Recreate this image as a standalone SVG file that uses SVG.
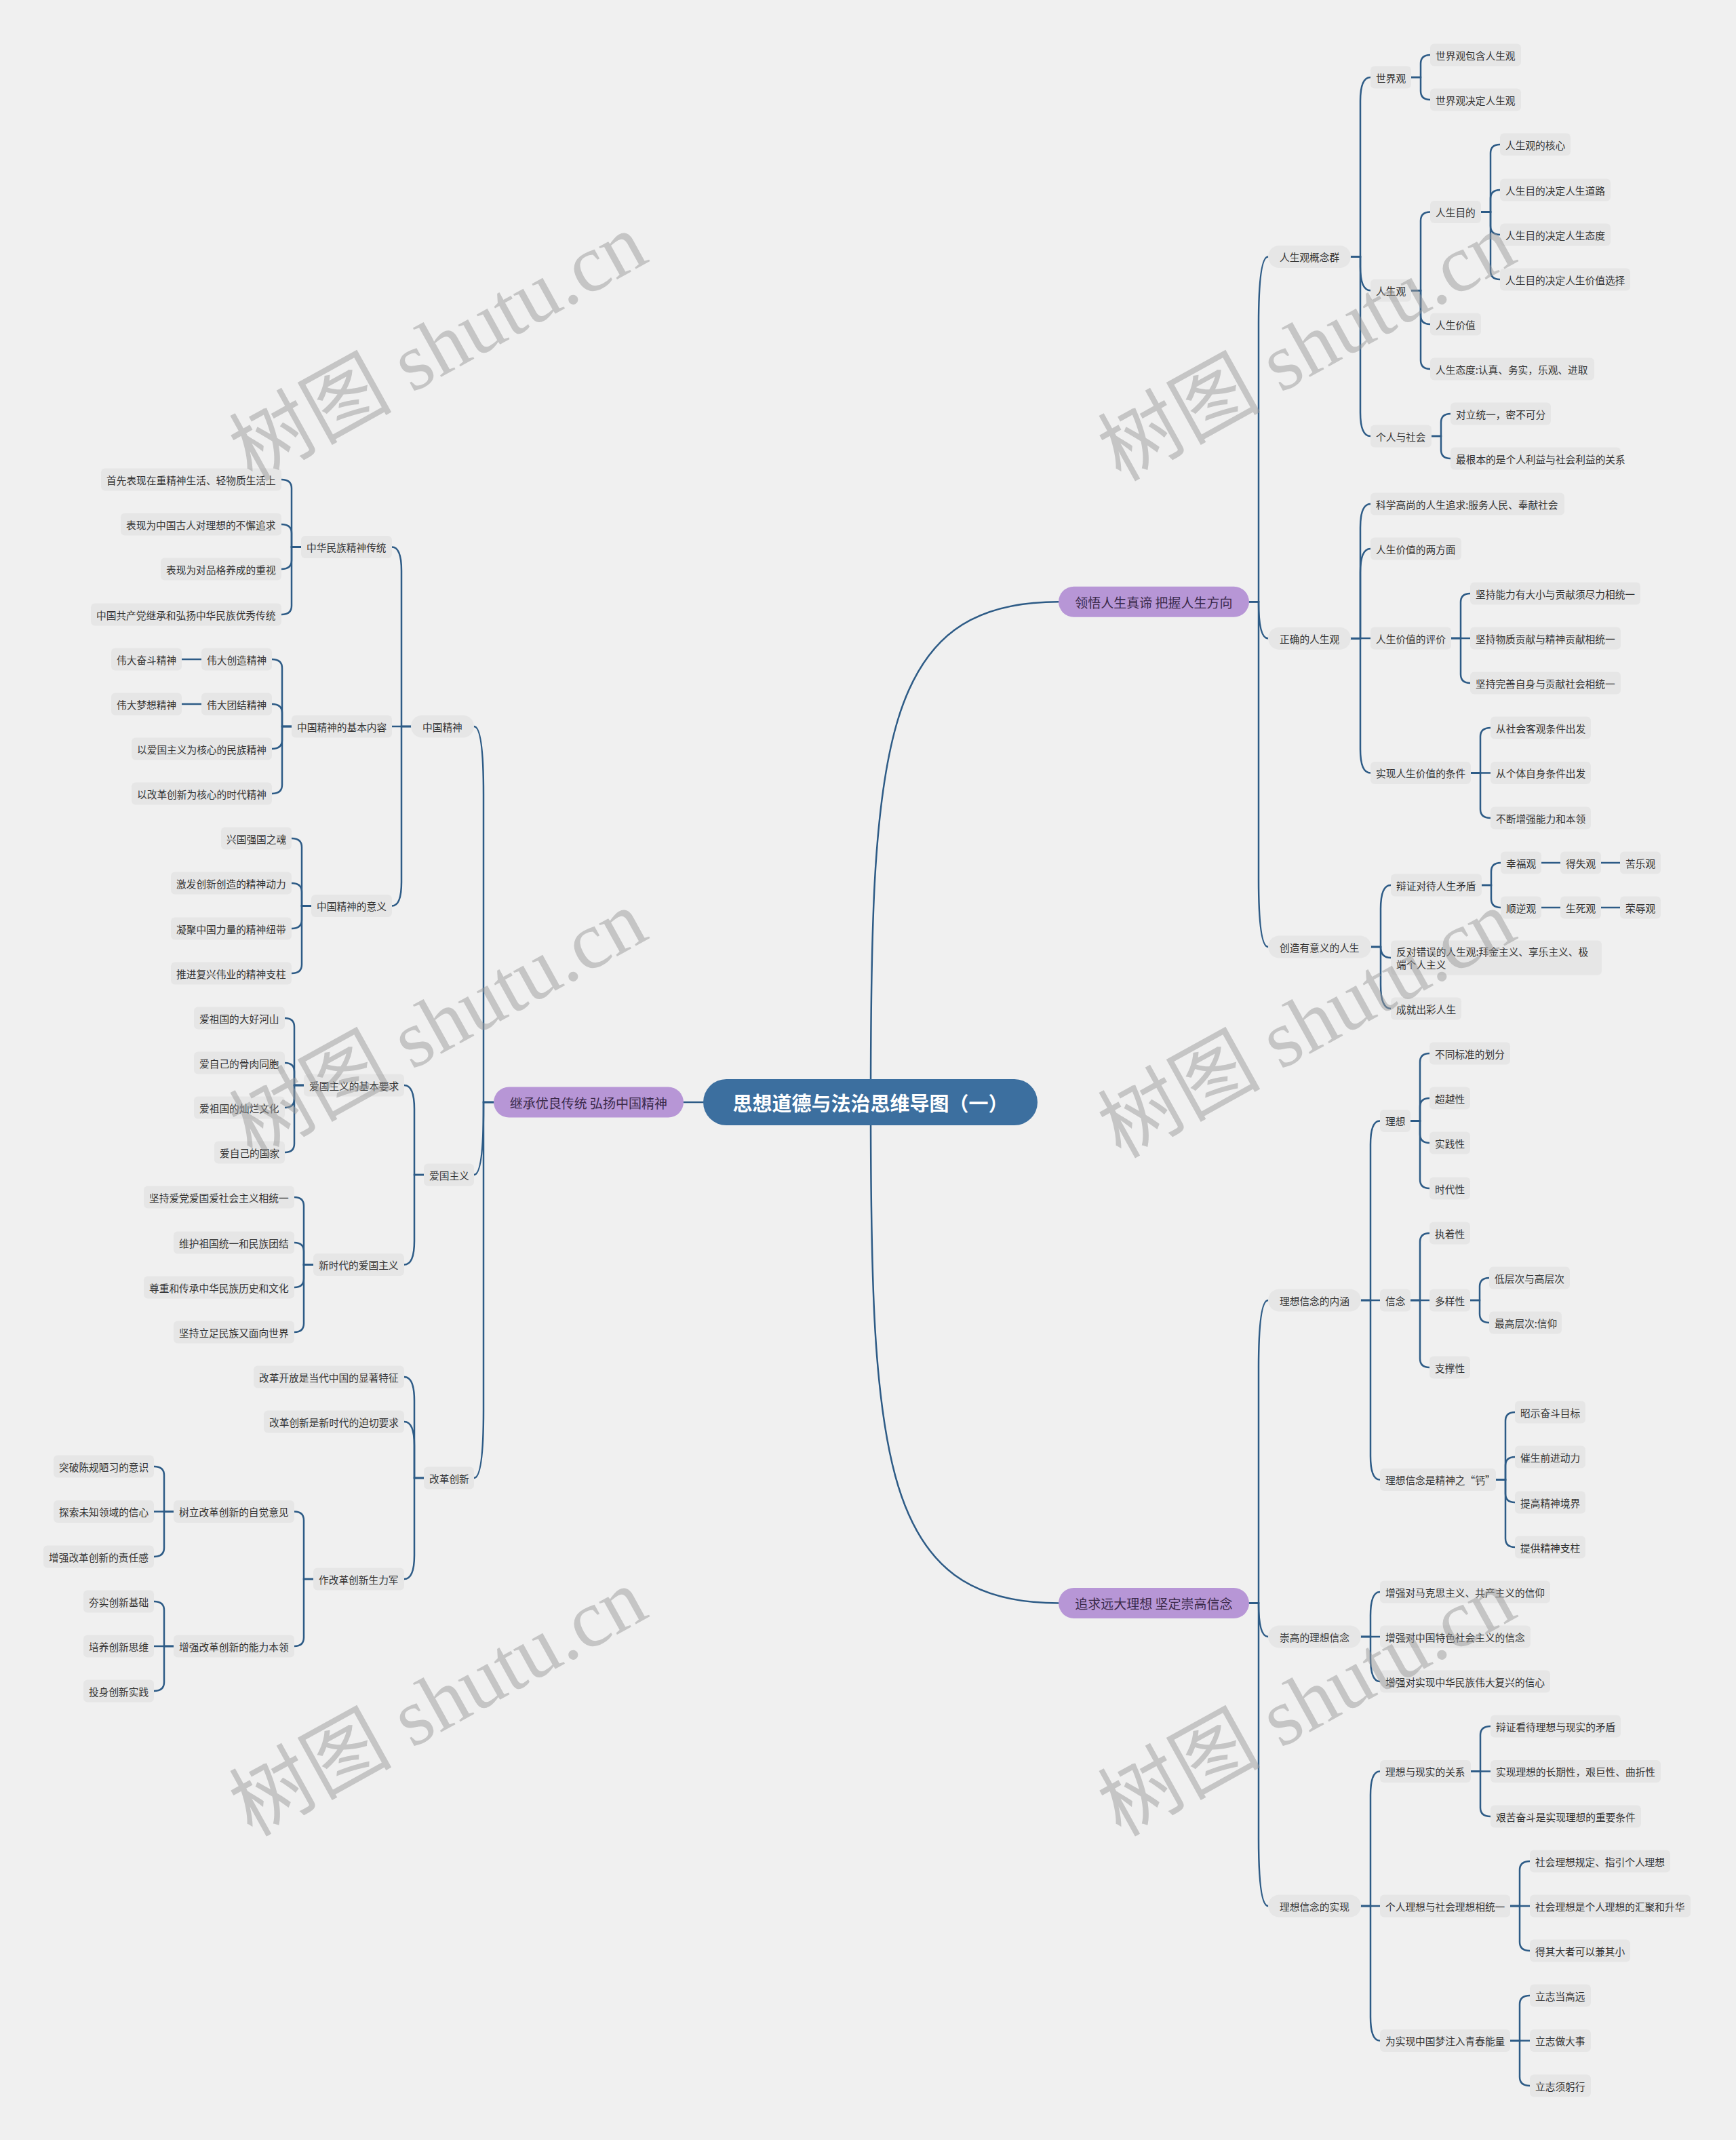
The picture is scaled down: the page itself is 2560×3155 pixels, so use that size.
<svg xmlns="http://www.w3.org/2000/svg" width="2560" height="3155" viewBox="0 0 2560 3155">
<style>
text{font-family:'Noto Sans CJK SC','Noto Sans',sans-serif}
.t{font-size:14.7px;fill:#333;dominant-baseline:central}
.n rect{fill:#e6e6e6}
.c path{fill:none;stroke:#2d5b86;stroke-width:2.5;stroke-linecap:round}
.br rect{fill:#b796d6}
.br text{font-size:19px;fill:#3a2949;dominant-baseline:central;text-anchor:middle}
.wm{font-family:'Liberation Serif','Noto Sans CJK SC',serif;font-size:120px;fill:#9a9a9a;fill-opacity:0.5;text-anchor:middle;dominant-baseline:central}
</style>
<rect width="2560" height="3155" fill="#f0f0f0"/>
<g class="c" id="connectors">
<path d="M1284,1625 C1284,1100 1300,887.25 1561,887.25"/>
<path d="M1284,1625 C1284,2150 1300,2363.5 1561,2363.5"/>
<path d="M1008,1625 H1037"/>
<path d="M1842,887.25 H1856 V478.5 Q1856,378.5 1870,378.5"/>
<path d="M1842,887.25 H1856 Q1856,941.25 1870,941.25"/>
<path d="M1842,887.25 H1856 V1296 Q1856,1396 1870,1396"/>
<path d="M1842,2363.5 H1856 V2017 Q1856,1917 1870,1917"/>
<path d="M1842,2363.5 H1856 Q1856,2413 1870,2413"/>
<path d="M1842,2363.5 H1856 V2710 Q1856,2810 1870,2810"/>
<path d="M1992,378.5 H2006 V149 Q2006,114 2021,114"/>
<path d="M1992,378.5 H2006 V393.25 Q2006,428.25 2021,428.25"/>
<path d="M1992,378.5 H2006 V608 Q2006,643 2021,643"/>
<path d="M1992,941.25 H2006 V778 Q2006,743 2021,743"/>
<path d="M1992,941.25 H2006 V844 Q2006,809 2021,809"/>
<path d="M1992,941 H2021"/>
<path d="M1992,941.25 H2006 V1104.5 Q2006,1139.5 2021,1139.5"/>
<path d="M2022,1396 H2036 V1340 Q2036,1305 2051,1305"/>
<path d="M2022,1396 H2036 Q2036,1412 2051,1412"/>
<path d="M2022,1396 H2036 V1452 Q2036,1487 2051,1487"/>
<path d="M2007,1917 H2021 V1687.5 Q2021,1652.5 2035,1652.5"/>
<path d="M2007,1917 H2035"/>
<path d="M2007,1917 H2021 V2146.5 Q2021,2181.5 2035,2181.5"/>
<path d="M2007,2413 H2021 V2382 Q2021,2347 2035,2347"/>
<path d="M2007,2413 H2035"/>
<path d="M2007,2413 H2021 V2444 Q2021,2479 2035,2479"/>
<path d="M2007,2810 H2021 V2646.5 Q2021,2611.5 2035,2611.5"/>
<path d="M2007,2810 H2035"/>
<path d="M2007,2810 H2021 V2973.5 Q2021,3008.5 2035,3008.5"/>
<path d="M2081,114 H2095 V94 Q2095,81 2109,81"/>
<path d="M2081,114 H2095 V134 Q2095,147 2109,147"/>
<path d="M2081,428.25 H2095 V325.5 Q2095,312.5 2109,312.5"/>
<path d="M2081,428.25 H2095 V465 Q2095,478 2109,478"/>
<path d="M2081,428.25 H2095 V531 Q2095,544 2109,544"/>
<path d="M2184,312.5 H2198 V226 Q2198,213 2212,213"/>
<path d="M2184,312.5 H2198 V293 Q2198,280 2212,280"/>
<path d="M2184,312.5 H2198 V333 Q2198,346 2212,346"/>
<path d="M2184,312.5 H2198 V399 Q2198,412 2212,412"/>
<path d="M2111,643 H2125 V623 Q2125,610 2139,610"/>
<path d="M2111,643 H2125 V663 Q2125,676 2139,676"/>
<path d="M2140,941 H2154 V888 Q2154,875 2168,875"/>
<path d="M2140,941 H2168"/>
<path d="M2140,941 H2154 V994 Q2154,1007 2168,1007"/>
<path d="M2169,1139.5 H2183 V1086 Q2183,1073 2198,1073"/>
<path d="M2169,1139.5 H2198"/>
<path d="M2169,1139.5 H2183 V1193 Q2183,1206 2198,1206"/>
<path d="M2185,1305 H2199 V1285 Q2199,1272 2213,1272"/>
<path d="M2185,1305 H2199 V1325 Q2199,1338 2213,1338"/>
<path d="M2273,1272 H2301"/>
<path d="M2361,1272 H2389"/>
<path d="M2273,1338 H2301"/>
<path d="M2361,1338 H2389"/>
<path d="M2080,1652.5 H2094 V1566 Q2094,1553 2108,1553"/>
<path d="M2080,1652.5 H2094 V1632 Q2094,1619 2108,1619"/>
<path d="M2080,1652.5 H2094 V1672 Q2094,1685 2108,1685"/>
<path d="M2080,1652.5 H2094 V1739 Q2094,1752 2108,1752"/>
<path d="M2080,1917 H2094 V1831 Q2094,1818 2108,1818"/>
<path d="M2080,1917 H2108"/>
<path d="M2080,1917 H2094 V2003 Q2094,2016 2108,2016"/>
<path d="M2168,1917 H2182 V1897 Q2182,1884 2196,1884"/>
<path d="M2168,1917 H2182 V1937 Q2182,1950 2196,1950"/>
<path d="M2206,2181.5 H2220 V2095 Q2220,2082 2234,2082"/>
<path d="M2206,2181.5 H2220 V2161 Q2220,2148 2234,2148"/>
<path d="M2206,2181.5 H2220 V2202 Q2220,2215 2234,2215"/>
<path d="M2206,2181.5 H2220 V2268 Q2220,2281 2234,2281"/>
<path d="M2169,2611.5 H2183 V2558 Q2183,2545 2198,2545"/>
<path d="M2169,2611.5 H2198"/>
<path d="M2169,2611.5 H2183 V2665 Q2183,2678 2198,2678"/>
<path d="M2227,2810 H2241 V2757 Q2241,2744 2256,2744"/>
<path d="M2227,2810 H2256"/>
<path d="M2227,2810 H2241 V2863 Q2241,2876 2256,2876"/>
<path d="M2227,3008.5 H2241 V2955 Q2241,2942 2256,2942"/>
<path d="M2227,3008.5 H2256"/>
<path d="M2227,3008.5 H2241 V3062 Q2241,3075 2256,3075"/>
<path d="M728,1625 H713 V1171 Q713,1071 699,1071"/>
<path d="M728,1625 H713 V1632 Q713,1732 699,1732"/>
<path d="M728,1625 H713 V2079 Q713,2179 699,2179"/>
<path d="M606,1071 H592 V841.5 Q592,806.5 578,806.5"/>
<path d="M606,1071 H578"/>
<path d="M606,1071 H592 V1300.5 Q592,1335.5 578,1335.5"/>
<path d="M625,1732 H611 V1635 Q611,1600 596,1600"/>
<path d="M625,1732 H611 V1829.5 Q611,1864.5 596,1864.5"/>
<path d="M625,2179 H611 V2065 Q611,2030 596,2030"/>
<path d="M625,2179 H611 V2131 Q611,2096 596,2096"/>
<path d="M625,2179 H611 V2293 Q611,2328 596,2328"/>
<path d="M444,806.5 H430 V720 Q430,707 415,707"/>
<path d="M444,806.5 H430 V786 Q430,773 415,773"/>
<path d="M444,806.5 H430 V826 Q430,839 415,839"/>
<path d="M444,806.5 H430 V893 Q430,906 415,906"/>
<path d="M430,1071 H416 V985 Q416,972 401,972"/>
<path d="M430,1071 H416 V1051 Q416,1038 401,1038"/>
<path d="M430,1071 H416 V1091 Q416,1104 401,1104"/>
<path d="M430,1071 H416 V1157 Q416,1170 401,1170"/>
<path d="M297,972 H268"/>
<path d="M297,1038 H268"/>
<path d="M459,1335.5 H445 V1249 Q445,1236 430,1236"/>
<path d="M459,1335.5 H445 V1315 Q445,1302 430,1302"/>
<path d="M459,1335.5 H445 V1356 Q445,1369 430,1369"/>
<path d="M459,1335.5 H445 V1422 Q445,1435 430,1435"/>
<path d="M448,1600 H434 V1514 Q434,1501 420,1501"/>
<path d="M448,1600 H434 V1580 Q434,1567 420,1567"/>
<path d="M448,1600 H434 V1620 Q434,1633 420,1633"/>
<path d="M448,1600 H434 V1686 Q434,1699 420,1699"/>
<path d="M462,1864.5 H448 V1778 Q448,1765 434,1765"/>
<path d="M462,1864.5 H448 V1845 Q448,1832 434,1832"/>
<path d="M462,1864.5 H448 V1885 Q448,1898 434,1898"/>
<path d="M462,1864.5 H448 V1951 Q448,1964 434,1964"/>
<path d="M462,2328 H448 V2241.5 Q448,2228.5 434,2228.5"/>
<path d="M462,2328 H448 V2414 Q448,2427 434,2427"/>
<path d="M256,2228.5 H242 V2175 Q242,2162 227,2162"/>
<path d="M256,2228.5 H227"/>
<path d="M256,2228.5 H242 V2282 Q242,2295 227,2295"/>
<path d="M256,2427 H242 V2374 Q242,2361 227,2361"/>
<path d="M256,2427 H227"/>
<path d="M256,2427 H242 V2480 Q242,2493 227,2493"/>
</g>
<g id="title"><rect x="1037" y="1591" width="493" height="68" rx="34" fill="#3c6f9f"/><text x="1283.5" y="1625" font-size="29" font-weight="bold" fill="#fff" text-anchor="middle" dominant-baseline="central">思想道德与法治思维导图（一）</text></g>
<g id="branch-r1" class="br"><rect x="1561" y="864.75" width="281" height="45" rx="22.5"/><text x="1701.5" y="887.25">领悟人生真谛 把握人生方向</text></g>
<g id="branch-r2" class="br"><rect x="1561" y="2341" width="281" height="45" rx="22.5"/><text x="1701.5" y="2363.5">追求远大理想 坚定崇高信念</text></g>
<g id="branch-l1" class="br"><rect x="728" y="1602.5" width="280" height="45" rx="22.5"/><text x="868" y="1625">继承优良传统 弘扬中国精神</text></g>
<g id="r-a1" class="n"><rect x="1870" y="362" width="122" height="33" rx="16.5"/><text class="t" x="1887" y="378.5">人生观概念群</text></g>
<g id="r-a2" class="n"><rect x="1870" y="924.75" width="122" height="33" rx="16.5"/><text class="t" x="1887" y="941.25">正确的人生观</text></g>
<g id="r-a3" class="n"><rect x="1870" y="1379.5" width="152" height="33" rx="16.5"/><text class="t" x="1887" y="1396">创造有意义的人生</text></g>
<g id="r-b1" class="n"><rect x="1870" y="1900.5" width="137" height="33" rx="16.5"/><text class="t" x="1887" y="1917">理想信念的内涵</text></g>
<g id="r-b2" class="n"><rect x="1870" y="2396.5" width="137" height="33" rx="16.5"/><text class="t" x="1887" y="2413">崇高的理想信念</text></g>
<g id="r-b3" class="n"><rect x="1870" y="2793.5" width="137" height="33" rx="16.5"/><text class="t" x="1887" y="2810">理想信念的实现</text></g>
<g id="r-1" class="n"><rect x="2021" y="97.5" width="60" height="33" rx="6"/><text class="t" x="2029" y="114">世界观</text></g>
<g id="r-2" class="n"><rect x="2109" y="64.5" width="134" height="33" rx="6"/><text class="t" x="2117" y="81">世界观包含人生观</text></g>
<g id="r-3" class="n"><rect x="2109" y="130.5" width="134" height="33" rx="6"/><text class="t" x="2117" y="147">世界观决定人生观</text></g>
<g id="r-4" class="n"><rect x="2021" y="411.75" width="60" height="33" rx="6"/><text class="t" x="2029" y="428.25">人生观</text></g>
<g id="r-5" class="n"><rect x="2109" y="296" width="75" height="33" rx="6"/><text class="t" x="2117" y="312.5">人生目的</text></g>
<g id="r-6" class="n"><rect x="2212" y="196.5" width="104" height="33" rx="6"/><text class="t" x="2220" y="213">人生观的核心</text></g>
<g id="r-7" class="n"><rect x="2212" y="263.5" width="163" height="33" rx="6"/><text class="t" x="2220" y="280">人生目的决定人生道路</text></g>
<g id="r-8" class="n"><rect x="2212" y="329.5" width="163" height="33" rx="6"/><text class="t" x="2220" y="346">人生目的决定人生态度</text></g>
<g id="r-9" class="n"><rect x="2212" y="395.5" width="192" height="33" rx="6"/><text class="t" x="2220" y="412">人生目的决定人生价值选择</text></g>
<g id="r-10" class="n"><rect x="2109" y="461.5" width="75" height="33" rx="6"/><text class="t" x="2117" y="478">人生价值</text></g>
<g id="r-11" class="n"><rect x="2109" y="527.5" width="242" height="33" rx="6"/><text class="t" x="2117" y="544">人生态度:认真、务实，乐观、进取</text></g>
<g id="r-12" class="n"><rect x="2021" y="626.5" width="90" height="33" rx="6"/><text class="t" x="2029" y="643">个人与社会</text></g>
<g id="r-13" class="n"><rect x="2139" y="593.5" width="148" height="33" rx="6"/><text class="t" x="2147" y="610">对立统一，密不可分</text></g>
<g id="r-14" class="n"><rect x="2139" y="659.5" width="251" height="33" rx="6"/><text class="t" x="2147" y="676">最根本的是个人利益与社会利益的关系</text></g>
<g id="r-15" class="n"><rect x="2021" y="726.5" width="286" height="33" rx="6"/><text class="t" x="2029" y="743">科学高尚的人生追求:服务人民、奉献社会</text></g>
<g id="r-16" class="n"><rect x="2021" y="792.5" width="134" height="33" rx="6"/><text class="t" x="2029" y="809">人生价值的两方面</text></g>
<g id="r-17" class="n"><rect x="2021" y="924.5" width="119" height="33" rx="6"/><text class="t" x="2029" y="941">人生价值的评价</text></g>
<g id="r-18" class="n"><rect x="2168" y="858.5" width="251" height="33" rx="6"/><text class="t" x="2176" y="875">坚持能力有大小与贡献须尽力相统一</text></g>
<g id="r-19" class="n"><rect x="2168" y="924.5" width="222" height="33" rx="6"/><text class="t" x="2176" y="941">坚持物质贡献与精神贡献相统一</text></g>
<g id="r-20" class="n"><rect x="2168" y="990.5" width="222" height="33" rx="6"/><text class="t" x="2176" y="1007">坚持完善自身与贡献社会相统一</text></g>
<g id="r-21" class="n"><rect x="2021" y="1123" width="148" height="33" rx="6"/><text class="t" x="2029" y="1139.5">实现人生价值的条件</text></g>
<g id="r-22" class="n"><rect x="2198" y="1056.5" width="148" height="33" rx="6"/><text class="t" x="2206" y="1073">从社会客观条件出发</text></g>
<g id="r-23" class="n"><rect x="2198" y="1123" width="148" height="33" rx="6"/><text class="t" x="2206" y="1139.5">从个体自身条件出发</text></g>
<g id="r-24" class="n"><rect x="2198" y="1189.5" width="148" height="33" rx="6"/><text class="t" x="2206" y="1206">不断增强能力和本领</text></g>
<g id="r-25" class="n"><rect x="2051" y="1288.5" width="134" height="33" rx="6"/><text class="t" x="2059" y="1305">辩证对待人生矛盾</text></g>
<g id="r-26" class="n"><rect x="2213" y="1255.5" width="60" height="33" rx="6"/><text class="t" x="2221" y="1272">幸福观</text></g>
<g id="r-27" class="n"><rect x="2301" y="1255.5" width="60" height="33" rx="6"/><text class="t" x="2309" y="1272">得失观</text></g>
<g id="r-28" class="n"><rect x="2389" y="1255.5" width="60" height="33" rx="6"/><text class="t" x="2397" y="1272">苦乐观</text></g>
<g id="r-29" class="n"><rect x="2213" y="1321.5" width="60" height="33" rx="6"/><text class="t" x="2221" y="1338">顺逆观</text></g>
<g id="r-30" class="n"><rect x="2301" y="1321.5" width="60" height="33" rx="6"/><text class="t" x="2309" y="1338">生死观</text></g>
<g id="r-31" class="n"><rect x="2389" y="1321.5" width="60" height="33" rx="6"/><text class="t" x="2397" y="1338">荣辱观</text></g>
<g id="r-32" class="n"><rect x="2051" y="1386.5" width="311" height="51" rx="6"/><text class="t" x="2059" y="1402.5">反对错误的人生观:拜金主义、享乐主义、极</text><text class="t" x="2059" y="1421.5">端个人主义</text></g>
<g id="r-33" class="n"><rect x="2051" y="1470.5" width="104" height="33" rx="6"/><text class="t" x="2059" y="1487">成就出彩人生</text></g>
<g id="r-34" class="n"><rect x="2035" y="1636" width="45" height="33" rx="6"/><text class="t" x="2043" y="1652.5">理想</text></g>
<g id="r-35" class="n"><rect x="2108" y="1536.5" width="119" height="33" rx="6"/><text class="t" x="2116" y="1553">不同标准的划分</text></g>
<g id="r-36" class="n"><rect x="2108" y="1602.5" width="60" height="33" rx="6"/><text class="t" x="2116" y="1619">超越性</text></g>
<g id="r-37" class="n"><rect x="2108" y="1668.5" width="60" height="33" rx="6"/><text class="t" x="2116" y="1685">实践性</text></g>
<g id="r-38" class="n"><rect x="2108" y="1735.5" width="60" height="33" rx="6"/><text class="t" x="2116" y="1752">时代性</text></g>
<g id="r-39" class="n"><rect x="2035" y="1900.5" width="45" height="33" rx="6"/><text class="t" x="2043" y="1917">信念</text></g>
<g id="r-40" class="n"><rect x="2108" y="1801.5" width="60" height="33" rx="6"/><text class="t" x="2116" y="1818">执着性</text></g>
<g id="r-41" class="n"><rect x="2108" y="1900.5" width="60" height="33" rx="6"/><text class="t" x="2116" y="1917">多样性</text></g>
<g id="r-42" class="n"><rect x="2196" y="1867.5" width="119" height="33" rx="6"/><text class="t" x="2204" y="1884">低层次与高层次</text></g>
<g id="r-43" class="n"><rect x="2196" y="1933.5" width="107" height="33" rx="6"/><text class="t" x="2204" y="1950">最高层次:信仰</text></g>
<g id="r-44" class="n"><rect x="2108" y="1999.5" width="60" height="33" rx="6"/><text class="t" x="2116" y="2016">支撑性</text></g>
<g id="r-45" class="n"><rect x="2035" y="2165" width="171" height="33" rx="6"/><text class="t" x="2043" y="2181.5">理想信念是精神之“钙”</text></g>
<g id="r-46" class="n"><rect x="2234" y="2065.5" width="104" height="33" rx="6"/><text class="t" x="2242" y="2082">昭示奋斗目标</text></g>
<g id="r-47" class="n"><rect x="2234" y="2131.5" width="104" height="33" rx="6"/><text class="t" x="2242" y="2148">催生前进动力</text></g>
<g id="r-48" class="n"><rect x="2234" y="2198.5" width="104" height="33" rx="6"/><text class="t" x="2242" y="2215">提高精神境界</text></g>
<g id="r-49" class="n"><rect x="2234" y="2264.5" width="104" height="33" rx="6"/><text class="t" x="2242" y="2281">提供精神支柱</text></g>
<g id="r-50" class="n"><rect x="2035" y="2330.5" width="251" height="33" rx="6"/><text class="t" x="2043" y="2347">增强对马克思主义、共产主义的信仰</text></g>
<g id="r-51" class="n"><rect x="2035" y="2396.5" width="222" height="33" rx="6"/><text class="t" x="2043" y="2413">增强对中国特色社会主义的信念</text></g>
<g id="r-52" class="n"><rect x="2035" y="2462.5" width="251" height="33" rx="6"/><text class="t" x="2043" y="2479">增强对实现中华民族伟大复兴的信心</text></g>
<g id="r-53" class="n"><rect x="2035" y="2595" width="134" height="33" rx="6"/><text class="t" x="2043" y="2611.5">理想与现实的关系</text></g>
<g id="r-54" class="n"><rect x="2198" y="2528.5" width="192" height="33" rx="6"/><text class="t" x="2206" y="2545">辩证看待理想与现实的矛盾</text></g>
<g id="r-55" class="n"><rect x="2198" y="2595" width="251" height="33" rx="6"/><text class="t" x="2206" y="2611.5">实现理想的长期性，艰巨性、曲折性</text></g>
<g id="r-56" class="n"><rect x="2198" y="2661.5" width="222" height="33" rx="6"/><text class="t" x="2206" y="2678">艰苦奋斗是实现理想的重要条件</text></g>
<g id="r-57" class="n"><rect x="2035" y="2793.5" width="192" height="33" rx="6"/><text class="t" x="2043" y="2810">个人理想与社会理想相统一</text></g>
<g id="r-58" class="n"><rect x="2256" y="2727.5" width="207" height="33" rx="6"/><text class="t" x="2264" y="2744">社会理想规定、指引个人理想</text></g>
<g id="r-59" class="n"><rect x="2256" y="2793.5" width="237" height="33" rx="6"/><text class="t" x="2264" y="2810">社会理想是个人理想的汇聚和升华</text></g>
<g id="r-60" class="n"><rect x="2256" y="2859.5" width="148" height="33" rx="6"/><text class="t" x="2264" y="2876">得其大者可以兼其小</text></g>
<g id="r-61" class="n"><rect x="2035" y="2992" width="192" height="33" rx="6"/><text class="t" x="2043" y="3008.5">为实现中国梦注入青春能量</text></g>
<g id="r-62" class="n"><rect x="2256" y="2925.5" width="90" height="33" rx="6"/><text class="t" x="2264" y="2942">立志当高远</text></g>
<g id="r-63" class="n"><rect x="2256" y="2992" width="90" height="33" rx="6"/><text class="t" x="2264" y="3008.5">立志做大事</text></g>
<g id="r-64" class="n"><rect x="2256" y="3058.5" width="90" height="33" rx="6"/><text class="t" x="2264" y="3075">立志须躬行</text></g>
<g id="l-a1" class="n"><rect x="606" y="1054.5" width="93" height="33" rx="16.5"/><text class="t" x="623" y="1071">中国精神</text></g>
<g id="l-a2" class="n"><rect x="625" y="1715.5" width="74" height="33" rx="6"/><text class="t" x="633" y="1732">爱国主义</text></g>
<g id="l-a3" class="n"><rect x="625" y="2162.5" width="74" height="33" rx="6"/><text class="t" x="633" y="2179">改革创新</text></g>
<g id="l-1" class="n"><rect x="444" y="790" width="134" height="33" rx="6"/><text class="t" x="452" y="806.5">中华民族精神传统</text></g>
<g id="l-2" class="n"><rect x="149" y="690.5" width="266" height="33" rx="6"/><text class="t" x="157" y="707">首先表现在重精神生活、轻物质生活上</text></g>
<g id="l-3" class="n"><rect x="178" y="756.5" width="237" height="33" rx="6"/><text class="t" x="186" y="773">表现为中国古人对理想的不懈追求</text></g>
<g id="l-4" class="n"><rect x="237" y="822.5" width="178" height="33" rx="6"/><text class="t" x="245" y="839">表现为对品格养成的重视</text></g>
<g id="l-5" class="n"><rect x="134" y="889.5" width="281" height="33" rx="6"/><text class="t" x="142" y="906">中国共产党继承和弘扬中华民族优秀传统</text></g>
<g id="l-6" class="n"><rect x="430" y="1054.5" width="148" height="33" rx="6"/><text class="t" x="438" y="1071">中国精神的基本内容</text></g>
<g id="l-7" class="n"><rect x="297" y="955.5" width="104" height="33" rx="6"/><text class="t" x="305" y="972">伟大创造精神</text></g>
<g id="l-8" class="n"><rect x="164" y="955.5" width="104" height="33" rx="6"/><text class="t" x="172" y="972">伟大奋斗精神</text></g>
<g id="l-9" class="n"><rect x="297" y="1021.5" width="104" height="33" rx="6"/><text class="t" x="305" y="1038">伟大团结精神</text></g>
<g id="l-10" class="n"><rect x="164" y="1021.5" width="104" height="33" rx="6"/><text class="t" x="172" y="1038">伟大梦想精神</text></g>
<g id="l-11" class="n"><rect x="194" y="1087.5" width="207" height="33" rx="6"/><text class="t" x="202" y="1104">以爱国主义为核心的民族精神</text></g>
<g id="l-12" class="n"><rect x="194" y="1153.5" width="207" height="33" rx="6"/><text class="t" x="202" y="1170">以改革创新为核心的时代精神</text></g>
<g id="l-13" class="n"><rect x="459" y="1319" width="119" height="33" rx="6"/><text class="t" x="467" y="1335.5">中国精神的意义</text></g>
<g id="l-14" class="n"><rect x="326" y="1219.5" width="104" height="33" rx="6"/><text class="t" x="334" y="1236">兴国强国之魂</text></g>
<g id="l-15" class="n"><rect x="252" y="1285.5" width="178" height="33" rx="6"/><text class="t" x="260" y="1302">激发创新创造的精神动力</text></g>
<g id="l-16" class="n"><rect x="252" y="1352.5" width="178" height="33" rx="6"/><text class="t" x="260" y="1369">凝聚中国力量的精神纽带</text></g>
<g id="l-17" class="n"><rect x="252" y="1418.5" width="178" height="33" rx="6"/><text class="t" x="260" y="1435">推进复兴伟业的精神支柱</text></g>
<g id="l-18" class="n"><rect x="448" y="1583.5" width="148" height="33" rx="6"/><text class="t" x="456" y="1600">爱国主义的基本要求</text></g>
<g id="l-19" class="n"><rect x="286" y="1484.5" width="134" height="33" rx="6"/><text class="t" x="294" y="1501">爱祖国的大好河山</text></g>
<g id="l-20" class="n"><rect x="286" y="1550.5" width="134" height="33" rx="6"/><text class="t" x="294" y="1567">爱自己的骨肉同胞</text></g>
<g id="l-21" class="n"><rect x="286" y="1616.5" width="134" height="33" rx="6"/><text class="t" x="294" y="1633">爱祖国的灿烂文化</text></g>
<g id="l-22" class="n"><rect x="316" y="1682.5" width="104" height="33" rx="6"/><text class="t" x="324" y="1699">爱自己的国家</text></g>
<g id="l-23" class="n"><rect x="462" y="1848" width="134" height="33" rx="6"/><text class="t" x="470" y="1864.5">新时代的爱国主义</text></g>
<g id="l-24" class="n"><rect x="212" y="1748.5" width="222" height="33" rx="6"/><text class="t" x="220" y="1765">坚持爱党爱国爱社会主义相统一</text></g>
<g id="l-25" class="n"><rect x="256" y="1815.5" width="178" height="33" rx="6"/><text class="t" x="264" y="1832">维护祖国统一和民族团结</text></g>
<g id="l-26" class="n"><rect x="212" y="1881.5" width="222" height="33" rx="6"/><text class="t" x="220" y="1898">尊重和传承中华民族历史和文化</text></g>
<g id="l-27" class="n"><rect x="256" y="1947.5" width="178" height="33" rx="6"/><text class="t" x="264" y="1964">坚持立足民族又面向世界</text></g>
<g id="l-28" class="n"><rect x="374" y="2013.5" width="222" height="33" rx="6"/><text class="t" x="382" y="2030">改革开放是当代中国的显著特征</text></g>
<g id="l-29" class="n"><rect x="389" y="2079.5" width="207" height="33" rx="6"/><text class="t" x="397" y="2096">改革创新是新时代的迫切要求</text></g>
<g id="l-30" class="n"><rect x="462" y="2311.5" width="134" height="33" rx="6"/><text class="t" x="470" y="2328">作改革创新生力军</text></g>
<g id="l-31" class="n"><rect x="256" y="2212" width="178" height="33" rx="6"/><text class="t" x="264" y="2228.5">树立改革创新的自觉意见</text></g>
<g id="l-32" class="n"><rect x="79" y="2145.5" width="148" height="33" rx="6"/><text class="t" x="87" y="2162">突破陈规陋习的意识</text></g>
<g id="l-33" class="n"><rect x="79" y="2212" width="148" height="33" rx="6"/><text class="t" x="87" y="2228.5">探索未知领域的信心</text></g>
<g id="l-34" class="n"><rect x="64" y="2278.5" width="163" height="33" rx="6"/><text class="t" x="72" y="2295">增强改革创新的责任感</text></g>
<g id="l-35" class="n"><rect x="256" y="2410.5" width="178" height="33" rx="6"/><text class="t" x="264" y="2427">增强改革创新的能力本领</text></g>
<g id="l-36" class="n"><rect x="123" y="2344.5" width="104" height="33" rx="6"/><text class="t" x="131" y="2361">夯实创新基础</text></g>
<g id="l-37" class="n"><rect x="123" y="2410.5" width="104" height="33" rx="6"/><text class="t" x="131" y="2427">培养创新思维</text></g>
<g id="l-38" class="n"><rect x="123" y="2476.5" width="104" height="33" rx="6"/><text class="t" x="131" y="2493">投身创新实践</text></g>
<g id="watermarks">
<text class="wm" transform="translate(646,512) rotate(-29)">树图 shutu.cn</text>
<text class="wm" transform="translate(1927,512) rotate(-29)">树图 shutu.cn</text>
<text class="wm" transform="translate(646,1510) rotate(-29)">树图 shutu.cn</text>
<text class="wm" transform="translate(1927,1510) rotate(-29)">树图 shutu.cn</text>
<text class="wm" transform="translate(646,2510) rotate(-29)">树图 shutu.cn</text>
<text class="wm" transform="translate(1927,2510) rotate(-29)">树图 shutu.cn</text>
</g>
</svg>
